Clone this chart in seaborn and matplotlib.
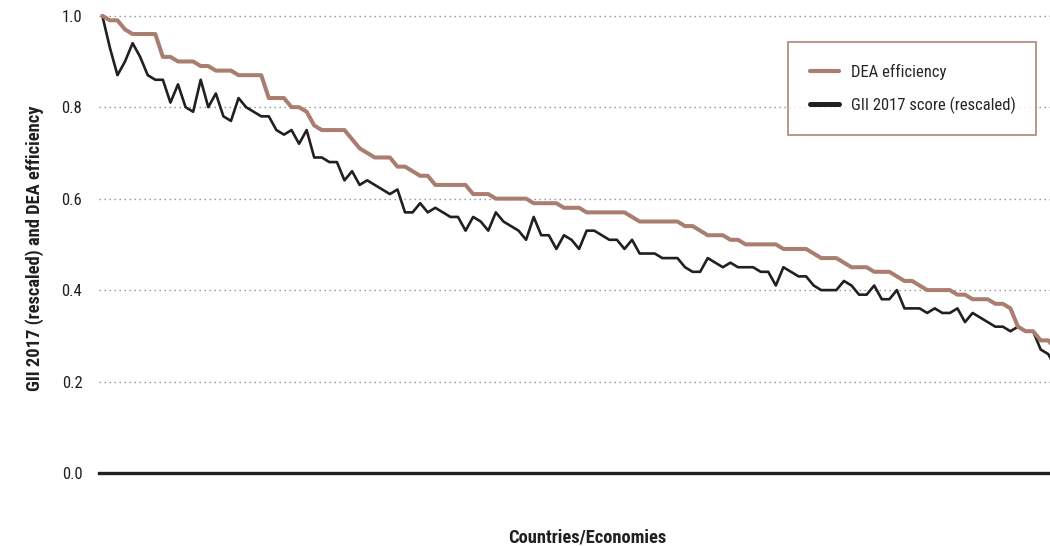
import numpy as np
import pandas as pd
import seaborn as sns
import matplotlib.pyplot as plt
from matplotlib import font_manager

# values, economies ranked by DEA efficiency
dea_efficiency = [
    1.00, 0.99, 0.99, 0.97, 0.96, 0.96, 0.96, 0.96, 0.91, 0.91,
    0.90, 0.90, 0.90, 0.89, 0.89, 0.88, 0.88, 0.88, 0.87, 0.87,
    0.87, 0.87, 0.82, 0.82, 0.82, 0.80, 0.80, 0.79, 0.76, 0.75,
    0.75, 0.75, 0.75, 0.73, 0.71, 0.70, 0.69, 0.69, 0.69, 0.67,
    0.67, 0.66, 0.65, 0.65, 0.63, 0.63, 0.63, 0.63, 0.63, 0.61,
    0.61, 0.61, 0.60, 0.60, 0.60, 0.60, 0.60, 0.59, 0.59, 0.59,
    0.59, 0.58, 0.58, 0.58, 0.57, 0.57, 0.57, 0.57, 0.57, 0.57,
    0.56, 0.55, 0.55, 0.55, 0.55, 0.55, 0.55, 0.54, 0.54, 0.53,
    0.52, 0.52, 0.52, 0.51, 0.51, 0.50, 0.50, 0.50, 0.50, 0.50,
    0.49, 0.49, 0.49, 0.49, 0.48, 0.47, 0.47, 0.47, 0.46, 0.45,
    0.45, 0.45, 0.44, 0.44, 0.44, 0.43, 0.42, 0.42, 0.41, 0.40,
    0.40, 0.40, 0.40, 0.39, 0.39, 0.38, 0.38, 0.38, 0.37, 0.37,
    0.36, 0.32, 0.31, 0.31, 0.29, 0.29, 0.27,
]
gii_score = [
    1.00, 0.93, 0.87, 0.90, 0.94, 0.91, 0.87, 0.86, 0.86, 0.81,
    0.85, 0.80, 0.79, 0.86, 0.80, 0.83, 0.78, 0.77, 0.82, 0.80,
    0.79, 0.78, 0.78, 0.75, 0.74, 0.75, 0.72, 0.75, 0.69, 0.69,
    0.68, 0.68, 0.64, 0.66, 0.63, 0.64, 0.63, 0.62, 0.61, 0.62,
    0.57, 0.57, 0.59, 0.57, 0.58, 0.57, 0.56, 0.56, 0.53, 0.56,
    0.55, 0.53, 0.57, 0.55, 0.54, 0.53, 0.51, 0.56, 0.52, 0.52,
    0.49, 0.52, 0.51, 0.49, 0.53, 0.53, 0.52, 0.51, 0.51, 0.49,
    0.51, 0.48, 0.48, 0.48, 0.47, 0.47, 0.47, 0.45, 0.44, 0.44,
    0.47, 0.46, 0.45, 0.46, 0.45, 0.45, 0.45, 0.44, 0.44, 0.41,
    0.45, 0.44, 0.43, 0.43, 0.41, 0.40, 0.40, 0.40, 0.42, 0.41,
    0.39, 0.39, 0.41, 0.38, 0.38, 0.40, 0.36, 0.36, 0.36, 0.35,
    0.36, 0.35, 0.35, 0.36, 0.33, 0.35, 0.34, 0.33, 0.32, 0.32,
    0.31, 0.32, 0.31, 0.31, 0.27, 0.26, 0.23,
]
economy_rank = list(range(len(dea_efficiency)))

df = pd.DataFrame({"rank": economy_rank, "dea": dea_efficiency, "gii": gii_score})

sns.set_theme(style="white")

# the original uses a condensed face; take a narrow one if the box has any
installed = {f.name: f.stretch for f in font_manager.fontManager.ttflist}
narrow = [n for n in ["Liberation Sans Narrow", "DejaVu Sans Condensed",
                      "Roboto Condensed", "Open Sans Condensed",
                      "Noto Sans Condensed", "Noto Sans SemiCondensed"] if n in installed]
condensed_dejavu = any(f.name == "DejaVu Sans" and str(f.stretch) in ("condensed", "semi-condensed", "600", "700")
                       for f in font_manager.fontManager.ttflist)
if narrow:
    plt.rcParams["font.family"] = [narrow[0], "DejaVu Sans"]
    squeeze = 1.0
else:
    plt.rcParams["font.family"] = ["DejaVu Sans"]
    plt.rcParams["font.stretch"] = "condensed"
    squeeze = 1.0 if condensed_dejavu else 0.86

BROWN = "#a97d6f"
BLACK = "#231f20"

fig = plt.figure(figsize=(10.5, 5.46), dpi=100)
ax = fig.add_axes([99 / 1050, 73 / 546, 951 / 1050, 466.4 / 546])

sns.lineplot(data=df, x="rank", y="gii", ax=ax, color=BLACK, linewidth=1.9,
             label="GII 2017 score (rescaled)")
sns.lineplot(data=df, x="rank", y="dea", ax=ax, color=BROWN, linewidth=2.9,
             label="DEA efficiency")

ax.set_xlim(-0.44, 125.23)
ax.set_ylim(0, 1.02)
ax.set_yticks([0.0, 0.2, 0.4, 0.6, 0.8, 1.0])
ax.set_yticklabels(["0.0", "0.2", "0.4", "0.6", "0.8", "1.0"],
                   fontsize=12 * squeeze, color=BLACK)
ax.set_xticks([])
ax.tick_params(axis="y", length=0, pad=12)

for y in [0.2, 0.4, 0.6, 0.8, 1.0]:
    ax.axhline(y, color="#8f8f8f", linewidth=1.0, linestyle=(0, (1, 2.6)), zorder=0)

for side in ["top", "right", "left"]:
    ax.spines[side].set_visible(False)
ax.spines["bottom"].set_color(BLACK)
ax.spines["bottom"].set_linewidth(2.4)

ax.set_xlabel("")
ax.set_ylabel("")
fig.text(35 / 1050, 1 - 248 / 546, "GII 2017 (rescaled) and DEA efficiency",
         rotation=90, ha="center", va="center", fontsize=13.3 * squeeze,
         fontweight="bold", color=BLACK)
fig.text(587 / 1050, 1 - 537 / 546, "Countries/Economies",
         ha="center", va="center", fontsize=13.3 * squeeze, fontweight="bold", color=BLACK)

handles, labels = ax.get_legend_handles_labels()
leg = ax.legend(handles[::-1], labels[::-1],
                loc="upper left",
                bbox_to_anchor=(788 / 1050, 1 - 42 / 546, 248 / 1050, 0),
                bbox_transform=fig.transFigure, mode="expand",
                fontsize=12 * squeeze, frameon=True, fancybox=False,
                borderpad=1.3, labelspacing=1.0, handlelength=1.75 / squeeze,
                handletextpad=0.75 / squeeze, borderaxespad=0)
leg.get_frame().set_edgecolor(BROWN)
leg.get_frame().set_linewidth(1.4)
for line, lw in zip(leg.get_lines(), [3.0, 3.6]):
    line.set_linewidth(lw)

fig.savefig("out.png", dpi=100, facecolor="white")
